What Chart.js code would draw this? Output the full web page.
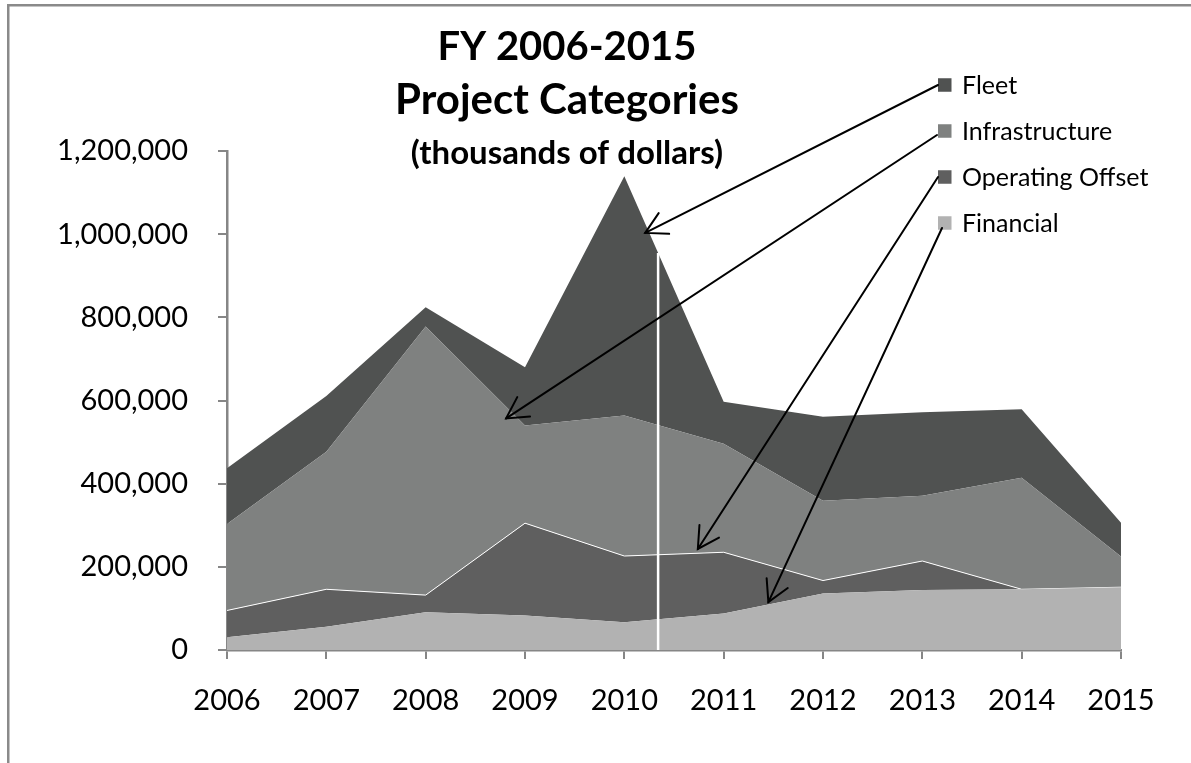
<!DOCTYPE html>
<html>
<head>
<meta charset="utf-8">
<script src="https://cdn.jsdelivr.net/npm/chart.js@4.4.1/dist/chart.umd.min.js"></script>
<style>
  html, body { margin: 0; padding: 0; background: #ffffff; }
  #wrap { width: 1191px; height: 763px; position: relative; }
  canvas { display: block; }
</style>
</head>
<body>
<div id="wrap"><canvas id="c" width="1191" height="763"></canvas></div>
<script>
// ---- data (thousands of dollars) ----
const years = ['2006', '2007', '2008', '2009', '2010', '2011', '2012', '2013', '2014', '2015'];
const financial       = [30500, 56000, 91000, 83000, 67000, 88000, 136000, 144000, 146000, 151000];
const operatingOffset = [64500, 90000, 41000, 222000, 159000, 147000, 31000, 70000, 0, 0];
const infrastructure  = [208000, 331000, 646000, 235000, 338000, 261000, 192000, 157000, 268000, 74000];
const fleet           = [134000, 134000, 46000, 140000, 575000, 101000, 202000, 201000, 165000, 81000];
const yTicks = [0, 200000, 400000, 600000, 800000, 1000000, 1200000];
const titleLines = ['FY 2006-2015', 'Project Categories', '(thousands of dollars)'];
const seriesLabels = ['Financial', 'Operating Offset', 'Infrastructure', 'Fleet'];
// arrow targets in data coordinates (category index, stacked value), per series
const arrowTargetX = { 'Fleet': 4.21, 'Infrastructure': 2.81, 'Operating Offset': 4.74, 'Financial': 5.45 };
const arrowTargetY = { 'Fleet': 1003000, 'Infrastructure': 557000, 'Operating Offset': 243000, 'Financial': 115000 };
const dividerX = 4.34;

const colors = {
  'Financial': '#b2b2b2',
  'Operating Offset': '#5f5f5f',
  'Infrastructure': '#7f8180',
  'Fleet': '#505251'
};
const axisColor = '#868686';
const FONT = 'Lato, "Open Sans", sans-serif';

const seriesData = [financial, operatingOffset, infrastructure, fleet];
const datasets = seriesLabels.map((lab, i) => ({
  label: lab,
  data: seriesData[i],
  backgroundColor: colors[lab],
  borderColor: lab === 'Operating Offset' ? '#ffffff' : colors[lab],
  borderWidth: lab === 'Operating Offset' ? 1 : 0,
  fill: i === 0 ? 'origin' : '-1',
  pointRadius: 0,
  pointHoverRadius: 0,
  tension: 0
}));

const overlay = {
  id: 'overlay',
  beforeDraw(chart) {
    const ctx = chart.ctx;
    ctx.save();
    ctx.fillStyle = '#ffffff';
    ctx.fillRect(0, 0, chart.width, chart.height);
    ctx.strokeStyle = '#8a8a8a';
    ctx.lineWidth = 2.5;
    ctx.beginPath();
    ctx.moveTo(8.25, chart.height + 2);
    ctx.lineTo(8.25, 5.25);
    ctx.lineTo(chart.width + 2, 5.25);
    ctx.stroke();
    ctx.restore();
  },
  afterDatasetsDraw(chart) {
    const ctx = chart.ctx;
    const xs = chart.scales.x, ys = chart.scales.y;
    const meta = chart.getDatasetMeta(3);
    const i0 = Math.floor(dividerX), i1 = i0 + 1;
    const p0 = meta.data[i0], p1 = meta.data[i1];
    const x = xs.getPixelForValue(dividerX);
    const t = (x - p0.x) / (p1.x - p0.x);
    const yTop = p0.y + t * (p1.y - p0.y);
    ctx.save();
    ctx.strokeStyle = '#ffffff';
    ctx.lineWidth = 2.5;
    ctx.beginPath();
    ctx.moveTo(x, yTop);
    ctx.lineTo(x, ys.getPixelForValue(0));
    ctx.stroke();
    ctx.restore();
  },
  afterDraw(chart) {
    const ctx = chart.ctx;
    const xs = chart.scales.x, ys = chart.scales.y;
    ctx.save();
    // title
    ctx.fillStyle = '#000000';
    ctx.textAlign = 'center';
    ctx.textBaseline = 'alphabetic';
    const cx = 567;
    ctx.font = 'bold 40px ' + FONT;
    ctx.fillText(titleLines[0], cx, 60);
    ctx.font = 'bold 42px ' + FONT;
    ctx.fillText(titleLines[1], cx, 114);
    ctx.font = 'bold 33px ' + FONT;
    ctx.fillText(titleLines[2], cx, 164);

    // legend (reverse order: Fleet on top)
    const order = seriesLabels.slice().reverse();
    const mx = 938, msz = 13.5, rowY0 = 85, rowGap = 46;
    const anchors = {};
    ctx.textAlign = 'left';
    ctx.textBaseline = 'middle';
    ctx.font = '25px ' + FONT;
    order.forEach((lab, k) => {
      const cy = rowY0 + k * rowGap;
      ctx.fillStyle = colors[lab];
      ctx.fillRect(mx, cy - msz / 2, msz, msz);
      ctx.fillStyle = '#000000';
      ctx.fillText(lab, 962, cy + 1);
      anchors[lab] = { x: mx, y: cy };
    });
    const startOff = { 'Fleet': [0, 0], 'Infrastructure': [-1, 4], 'Operating Offset': [0, 0], 'Financial': [4, 5] };

    // arrows
    ctx.strokeStyle = '#000000';
    ctx.lineWidth = 2;
    ctx.lineCap = 'round';
    order.forEach(lab => {
      const sx = anchors[lab].x + startOff[lab][0];
      const sy = anchors[lab].y + startOff[lab][1];
      const tx = xs.getPixelForValue(arrowTargetX[lab]);
      const ty = ys.getPixelForValue(arrowTargetY[lab]);
      ctx.beginPath();
      ctx.moveTo(sx, sy);
      ctx.lineTo(tx, ty);
      ctx.stroke();
      const ang = Math.atan2(sy - ty, sx - tx);
      const L = 24, half = 29 * Math.PI / 180;
      ctx.beginPath();
      ctx.moveTo(tx + L * Math.cos(ang - half), ty + L * Math.sin(ang - half));
      ctx.lineTo(tx, ty);
      ctx.lineTo(tx + L * Math.cos(ang + half), ty + L * Math.sin(ang + half));
      ctx.stroke();
    });
    ctx.restore();
  }
};

new Chart(document.getElementById('c'), {
  type: 'line',
  data: { labels: years, datasets },
  options: {
    responsive: false,
    animation: false,
    devicePixelRatio: 1,
    layout: { padding: { left: 0, right: 70, top: 151, bottom: 0 } },
    plugins: {
      legend: { display: false },
      title: { display: false },
      tooltip: { enabled: false },
      filler: { propagate: false }
    },
    elements: { line: { borderJoinStyle: 'miter' } },
    scales: {
      x: {
        type: 'category',
        offset: false,
        grid: {
          display: true, drawOnChartArea: false, drawTicks: true,
          tickLength: 9, color: axisColor, lineWidth: 2
        },
        border: { display: true, color: axisColor, width: 2.5 },
        ticks: {
          color: '#000000', padding: 24, maxRotation: 0, autoSkip: false,
          font: { family: FONT, size: 29 }
        },
        afterFit(scale) { scale.height = 113; }
      },
      y: {
        stacked: true,
        min: 0, max: 1200000,
        afterBuildTicks(scale) { scale.ticks = yTicks.map(v => ({ value: v })); },
        grid: {
          display: true, drawOnChartArea: false, drawTicks: true,
          tickLength: 9, color: axisColor, lineWidth: 2
        },
        border: { display: true, color: axisColor, width: 2.5 },
        ticks: {
          color: '#000000', padding: 30,
          font: { family: FONT, size: 29 },
          callback: v => Number(v).toLocaleString('en-US')
        },
        afterFit(scale) { scale.width = 227; }
      }
    }
  },
  plugins: [overlay]
});
</script>
</body>
</html>
